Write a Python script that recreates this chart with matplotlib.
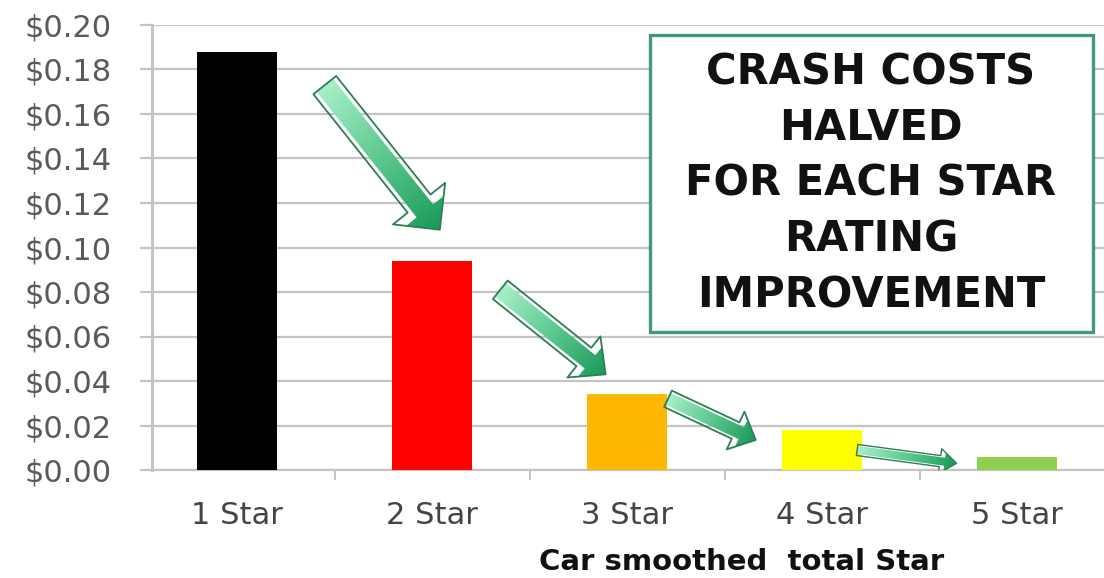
from matplotlib import pyplot as plt
from matplotlib.patches import FancyArrowPatch, Rectangle
from matplotlib.colors import LinearSegmentedColormap
from matplotlib.ticker import FuncFormatter, MultipleLocator
import numpy as np

# data
categories = ['1 Star', '2 Star', '3 Star', '4 Star', '5 Star']
crash_cost = [0.188, 0.094, 0.034, 0.018, 0.006]
bar_colors = ['#000000', '#ff0000', '#ffb800', '#ffff00', '#8fd050']

W, H = 1104, 578


def fig_box(x0, y0, x1, y1):
  # pixel box (top-left origin) -> figure fraction rect
  return [x0 / W, 1 - y1 / H, (x1 - x0) / W, (y1 - y0) / H]


def gradient_arrow(ax, tail, tip, tail_w, head_w, head_len, lw=1.3):
  style = f'simple,tail_width={tail_w},head_width={head_w},head_length={head_len}'
  arrow = FancyArrowPatch(tail, tip, arrowstyle=style, mutation_scale=1,
                          shrinkA=0, shrinkB=0, fc='none', ec='#2e7d57',
                          lw=lw, zorder=6)
  ax.add_patch(arrow)

  (x0, y0), (x1, y1) = tail, tip
  xs = np.linspace(min(x0, x1) - 0.3, max(x0, x1) + 0.3, 160)
  ys = np.linspace(min(y0, y1) - 0.03, max(y0, y1) + 0.03, 160)
  X, Y = np.meshgrid(xs, ys)
  pts = ax.transData.transform(np.column_stack([X.ravel(), Y.ravel()]))
  p0 = ax.transData.transform(tail)
  p1 = ax.transData.transform(tip)
  d = p1 - p0
  t = np.clip(((pts - p0) @ d) / (d @ d), 0, 1).reshape(X.shape)
  cmap = LinearSegmentedColormap.from_list('g', ['#a6f0c8', '#5cc88e', '#1a9a58'])
  im = ax.imshow(t, extent=[xs[0], xs[-1], ys[0], ys[-1]], origin='lower',
                 cmap=cmap, aspect='auto', zorder=5, interpolation='bilinear')
  im.set_clip_path(arrow)


def main():
  plt.rcParams['font.family'] = ['DejaVu Sans']
  fig = plt.figure(figsize=(W / 100, H / 100), dpi=100)

  xmin, xmax = -0.436, 4.5
  ax_left = 152
  ax_right = ax_left + (xmax - xmin) * 195
  ax = fig.add_axes(fig_box(ax_left, 25, ax_right, 470))
  ax.set_xlim(xmin, xmax)
  ax.set_ylim(0, 0.20)
  ax.set_autoscale_on(False)

  x = np.arange(len(categories))
  ax.bar(x, crash_cost, width=0.41, color=bar_colors, zorder=3)

  ax.yaxis.set_major_locator(MultipleLocator(0.02))
  ax.yaxis.set_major_formatter(FuncFormatter(lambda v, _: f'${v:.2f}'))
  ax.grid(axis='y', color='#c4c4c4', lw=1.6, zorder=0)
  ax.tick_params(axis='y', length=9, width=1.6, color='#c4c4c4', pad=20,
                 labelsize=22, labelcolor='#5a5a5a')
  ax.set_xticks(x)
  ax.set_xticklabels(categories, fontsize=22, color='#444444')
  ax.set_xticks(x[:-1] + 0.5, minor=True)
  ax.tick_params(axis='x', which='major', length=0, pad=22)
  ax.tick_params(axis='x', which='minor', length=7, width=1.4, color='#c4c4c4')
  for side in ['top', 'right']:
    ax.spines[side].set_visible(False)
  ax.spines['left'].set_color('#c4c4c4')
  ax.spines['left'].set_linewidth(2.2)
  ax.spines['bottom'].set_color('#c4c4c4')
  ax.spines['bottom'].set_linewidth(1.6)

  ax.set_xlabel('Car smoothed  total Star', fontweight='bold',
                fontsize=21, color='#111111', va='center')
  ax.xaxis.set_label_coords((742 - ax_left) / (ax_right - ax_left),
                            (470 - 562) / 445)

  # arrows between bars
  gradient_arrow(ax, (0.45, 0.173), (1.04, 0.108), 21, 48, 24)
  gradient_arrow(ax, (1.35, 0.081), (1.89, 0.043), 17, 38, 20)
  gradient_arrow(ax, (2.21, 0.032), (2.66, 0.0135), 13, 30, 16)
  gradient_arrow(ax, (3.18, 0.009), (3.69, 0.003), 8, 18, 12, lw=1.0)

  # callout box
  box = fig_box(650, 35, 1093, 332)
  fig.add_artist(Rectangle(box[:2], box[2], box[3],
                           transform=fig.transFigure, fc='white',
                           ec='#3f9a7c', lw=2.4, zorder=10))
  fig.text(871 / W, 1 - 184 / H,
           'CRASH COSTS\nHALVED\nFOR EACH STAR\nRATING\nIMPROVEMENT',
           ha='center', va='center', fontweight='bold',
           fontsize=30, linespacing=1.42, color='#111111', zorder=11)

  fig.savefig('out.png', dpi=100)


if __name__ == '__main__':
  main()
